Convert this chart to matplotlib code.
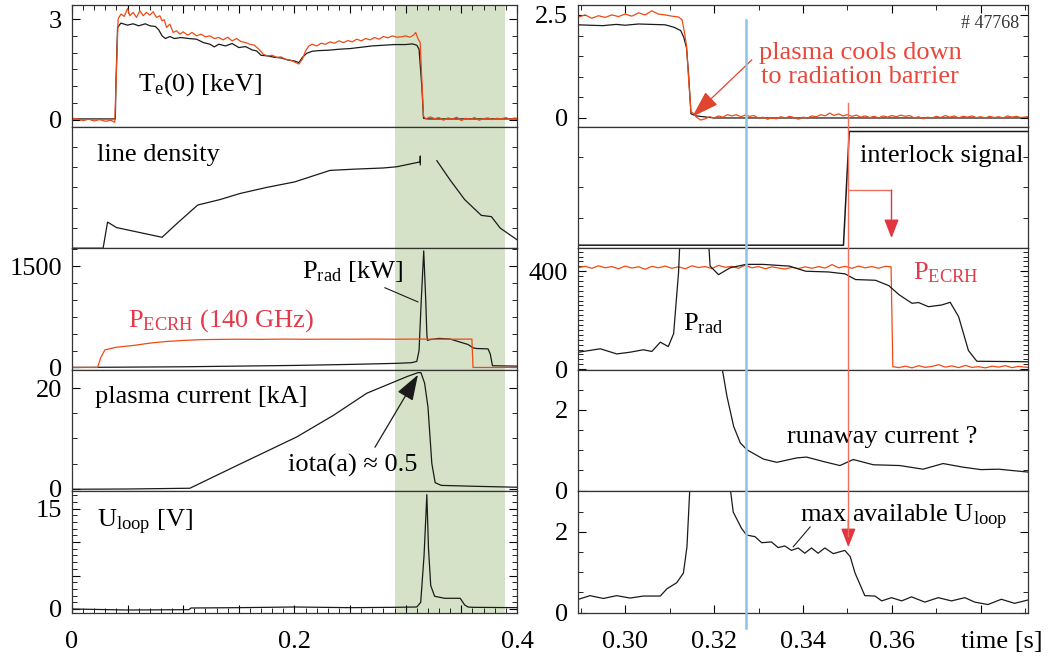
import numpy as np
import matplotlib
matplotlib.use("Agg")
import matplotlib.pyplot as plt
from matplotlib.ticker import MultipleLocator
from matplotlib.transforms import blended_transform_factory

plt.rcParams['font.family'] = ['Liberation Serif', 'DejaVu Serif']
plt.rcParams['mathtext.fontset'] = 'custom'
plt.rcParams['mathtext.rm'] = 'Liberation Serif'
plt.rcParams['mathtext.it'] = 'Liberation Serif:italic'

# ---------------- overview (left column), time in s ----------------
te_red_t = [0, 0.005, 0.01, 0.015, 0.02, 0.025, 0.03, 0.035, 0.0385, 0.040, 0.0415, 0.044, 0.047,
            0.050, 0.052, 0.055, 0.058, 0.061, 0.064, 0.067, 0.070, 0.073, 0.076, 0.079, 0.081,
            0.083, 0.085, 0.088, 0.091, 0.094, 0.097, 0.100, 0.104, 0.108, 0.112, 0.116, 0.120,
            0.124, 0.128, 0.132, 0.136, 0.140, 0.144, 0.148, 0.152, 0.156, 0.160, 0.164, 0.168,
            0.172, 0.176, 0.180, 0.184, 0.188, 0.192, 0.196, 0.200, 0.204, 0.207, 0.210, 0.213,
            0.216, 0.220, 0.224, 0.228, 0.232, 0.236, 0.240, 0.244, 0.248, 0.252, 0.256, 0.260,
            0.264, 0.268, 0.272, 0.276, 0.280, 0.284, 0.288, 0.292, 0.296, 0.300, 0.304, 0.307,
            0.309, 0.311, 0.313, 0.3145, 0.316, 0.318, 0.322, 0.326, 0.330, 0.334, 0.338, 0.342,
            0.346, 0.350, 0.354, 0.358, 0.362, 0.366, 0.370, 0.374, 0.378, 0.382, 0.386, 0.390,
            0.394, 0.398, 0.400]
te_red = [0.04, 0.02, -0.03, 0.01, -0.04, 0.0, -0.05, -0.02, -0.08, 1.5, 3.0, 3.15, 3.08,
          3.32, 3.1, 3.2, 3.05, 3.25, 3.1, 3.2, 3.12, 3.22, 3.05, 3.1, 2.95,
          2.98, 2.75, 2.85, 2.6, 2.65, 2.55, 2.62, 2.52, 2.6, 2.5, 2.55, 2.47,
          2.5, 2.42, 2.45, 2.38, 2.46, 2.35, 2.42, 2.33, 2.3, 2.25, 2.22, 2.1,
          1.95, 1.9, 1.92, 1.86, 1.87, 1.8, 1.78, 1.72, 1.66, 1.8, 2.05, 2.2,
          2.25, 2.2, 2.28, 2.25, 2.32, 2.28, 2.35, 2.3, 2.36, 2.32, 2.4, 2.35,
          2.42, 2.38, 2.45, 2.4, 2.48, 2.44, 2.5, 2.46, 2.47, 2.5, 2.46, 2.52,
          2.6, 2.42, 2.3, 1.2, 0.1, 0.02, 0.08, 0.03, 0.06, -0.02, 0.05, 0.02,
          0.07, -0.03, 0.04, 0.01, 0.06, -0.02, 0.03, 0.05, 0.0, 0.04, 0.02, 0.06,
          0.01, 0.05, 0.03]

te_blk_t = [0, 0.039, 0.0395, 0.041, 0.044, 0.050, 0.055, 0.060, 0.066, 0.070, 0.075, 0.078,
            0.081, 0.084, 0.088, 0.092, 0.098, 0.105, 0.112, 0.118, 0.124, 0.128, 0.132, 0.138,
            0.144, 0.150, 0.156, 0.162, 0.166, 0.170, 0.176, 0.182, 0.188, 0.194, 0.200, 0.204,
            0.207, 0.211, 0.216, 0.222, 0.230, 0.240, 0.250, 0.260, 0.270, 0.280, 0.290, 0.300,
            0.306, 0.310, 0.312, 0.3145, 0.316, 0.320, 0.400]
te_blk = [0.02, 0.02, 1.0, 2.75, 2.88, 2.82, 2.86, 2.8, 2.86, 2.8, 2.78, 2.68,
          2.5, 2.42, 2.48, 2.42, 2.45, 2.42, 2.4, 2.3, 2.25, 2.17, 2.25, 2.2,
          2.27, 2.15, 2.18, 2.08, 2.05, 1.92, 1.9, 1.86, 1.84, 1.78, 1.75, 1.7,
          1.85, 1.98, 2.04, 2.06, 2.07, 2.1, 2.12, 2.16, 2.2, 2.22, 2.24, 2.24,
          2.26, 2.22, 2.1, 1.0, 0.04, 0.02, 0.02]

dens_t = [0, 0.028, 0.032, 0.040, 0.081, 0.094, 0.113, 0.133, 0.151, 0.175, 0.200, 0.232,
          0.253, 0.280, 0.292, 0.313, 0.3131, 0.3131, 0.3132, 0.328, 0.340, 0.353, 0.368,
          0.377, 0.385, 0.400]
dens = [0, 0, 1.29, 1.02, 0.54, 1.2, 2.13, 2.4, 2.7, 3.0, 3.27, 3.84,
        3.9, 3.96, 4.02, 4.26, 4.55, 4.12, np.nan, 4.32, 3.36, 2.4, 1.62,
        1.56, 0.99, 0.42]

ecrh_t = [0, 0.023, 0.026, 0.0297, 0.040, 0.055, 0.070, 0.085, 0.100, 0.115, 0.130, 0.150,
          0.170, 0.190, 0.210, 0.230, 0.250, 0.270, 0.290, 0.310, 0.330, 0.350, 0.3595,
          0.3605, 0.400]
ecrh = [0, 0, 150, 261, 300, 325, 360, 385, 400, 411, 415, 418,
        416, 420, 417, 419, 418, 420, 418, 420, 418, 419, 420,
        0, 0]

prad_t = [0, 0.05, 0.10, 0.15, 0.20, 0.25, 0.29, 0.305, 0.310, 0.312, 0.314, 0.3162, 0.318,
          0.319, 0.3195, 0.321, 0.330, 0.340, 0.349, 0.356, 0.3607, 0.364, 0.374, 0.376,
          0.378, 0.400]
prad = [0, 5, 10, 20, 30, 45, 60, 70, 90, 250, 1000, 1725, 1000,
        500, 400, 410, 430, 420, 375, 340, 290, 280, 275, 200,
        25, 20]

ip_t = [0, 0.05, 0.106, 0.15, 0.202, 0.235, 0.265, 0.301, 0.311, 0.3137, 0.317, 0.320,
        0.3235, 0.3265, 0.332, 0.360, 0.400]
ip = [-0.1, -0.05, 0.1, 4.8, 10.3, 14.6, 19.0, 22.3, 23.1, 23.1, 21.0, 16.3,
      5.0, 1.2, 0.67, 0.5, 0.3]

uloop_t = [0, 0.05, 0.105, 0.107, 0.15, 0.20, 0.25, 0.29, 0.31, 0.3135, 0.3165, 0.319,
           0.3205, 0.3225, 0.326, 0.335, 0.349, 0.353, 0.356, 0.360, 0.400]
uloop = [0.0, -0.15, -0.1, 0.15, 0.2, 0.3, 0.2, 0.25, 0.3, 1.0, 8.0, 17.1,
         9.0, 3.5, 1.9, 1.6, 1.6, 0.6, 0.3, 0.25, 0.2]

# ---------------- zoom (right column) ----------------
zte_red_t = [0.2895, 0.291, 0.2925, 0.294, 0.2955, 0.297, 0.2985, 0.300, 0.3015, 0.303, 0.3045,
             0.306, 0.3075, 0.309, 0.3105, 0.312, 0.3128, 0.3133, 0.3138, 0.3143, 0.3148, 0.3155,
             0.316, 0.317, 0.318, 0.319, 0.320, 0.321, 0.322, 0.323, 0.324, 0.325, 0.326, 0.327,
             0.328, 0.329, 0.330, 0.331, 0.332, 0.333, 0.334, 0.335, 0.336, 0.337, 0.338, 0.339,
             0.340, 0.341, 0.342, 0.343, 0.344, 0.345, 0.346, 0.347, 0.348, 0.349, 0.350, 0.351,
             0.352, 0.353, 0.354, 0.355, 0.356, 0.357, 0.358, 0.359, 0.360, 0.361, 0.362, 0.363,
             0.364, 0.365, 0.366, 0.367, 0.368, 0.369, 0.370, 0.371, 0.372, 0.373, 0.374, 0.375,
             0.376, 0.377, 0.378, 0.379, 0.380, 0.381, 0.382, 0.383, 0.384, 0.385, 0.386, 0.387,
             0.388, 0.389, 0.3905]
zte_red = [2.45, 2.5, 2.42, 2.48, 2.44, 2.5, 2.46, 2.52, 2.47, 2.55, 2.5,
           2.6, 2.52, 2.5, 2.47, 2.45, 2.38, 2.1, 1.75, 0.9, 0.15, 0.1,
           0.02, -0.05, -0.02, 0.03, 0.0, 0.05, 0.02, 0.08, 0.05, 0.08, 0.03, 0.07,
           0.04, 0.06, -0.01, 0.02, -0.03, 0.0, -0.02, 0.03, 0.0, 0.04, 0.01, -0.03,
           0.02, 0.0, 0.05, 0.03, 0.08, 0.05, 0.12, 0.06, 0.1, 0.05, 0.08, 0.04,
           0.07, 0.02, 0.05, 0.01, 0.04, 0.0, 0.05, 0.02, 0.06, 0.03, 0.07, 0.04,
           0.06, 0.0, 0.03, -0.02, 0.02, 0.0, 0.04, 0.01, 0.06, 0.02, 0.05, 0.0,
           0.04, 0.02, 0.05, 0.01, 0.03, 0.0, 0.04, 0.01, 0.03, 0.0, 0.05, 0.02,
           0.04, 0.01, 0.03]

zte_blk_t = [0.2895, 0.292, 0.295, 0.298, 0.300, 0.303, 0.306, 0.309, 0.311, 0.3125, 0.3132,
             0.3138, 0.3143, 0.3148, 0.316, 0.320, 0.3905]
zte_blk = [2.26, 2.25, 2.24, 2.27, 2.25, 2.28, 2.27, 2.26, 2.2, 2.12, 1.95,
           1.7, 1.0, 0.1, 0.05, 0.0, 0.0]

ilock_t = [0.2895, 0.3491, 0.3504, 0.3905]
ilock = [0.15, 0.15, 5.76, 5.76]

zecrh_t = [0.2895, 0.291, 0.2925, 0.294, 0.2955, 0.297, 0.2985, 0.300, 0.3015, 0.303, 0.3045,
           0.306, 0.3075, 0.309, 0.3105, 0.312, 0.3135, 0.315, 0.3165, 0.318, 0.3195, 0.321,
           0.3225, 0.324, 0.3255, 0.327, 0.3285, 0.330, 0.3315, 0.333, 0.3345, 0.336, 0.3375,
           0.339, 0.3405, 0.342, 0.3435, 0.345, 0.3465, 0.348, 0.3495, 0.351, 0.3525, 0.354,
           0.3555, 0.357, 0.3585, 0.3598, 0.3602, 0.3615, 0.363, 0.3645, 0.366, 0.3675, 0.369,
           0.3705, 0.372, 0.3735, 0.375, 0.3765, 0.378, 0.3795, 0.381, 0.3825, 0.384, 0.3855,
           0.387, 0.3885, 0.3905]
zecrh = [415, 420, 412, 422, 414, 419, 410, 421, 413, 418, 408,
         420, 414, 421, 412, 418, 410, 422, 415, 419, 411, 424,
         416, 420, 412, 425, 414, 419, 410, 418, 413, 409, 416,
         411, 418, 412, 419, 413, 427, 414, 420, 412, 421, 414,
         419, 412, 420, 418, 10, 6, 12, 5, 14, 7, 11,
         18, 8, 13, 6, 15, 7, 10, 5, 12, 8, 14,
         6, 11, 7]

zprad_t = [0.2895, 0.2944, 0.2981, 0.3011, 0.3041, 0.3060, 0.3079, 0.3097, 0.3109, 0.3120,
           0.3125, 0.3185, 0.3191, 0.3210, 0.3236, 0.3272, 0.3309, 0.3369, 0.3406, 0.3457,
           0.3495, 0.3518, 0.3563, 0.3593, 0.3616, 0.3645, 0.3660, 0.3682, 0.3712, 0.3731,
           0.3750, 0.3772, 0.3791, 0.3905]
zprad = [69, 83, 62, 69, 79, 72, 110, 92, 145, 393,
         600, 600, 421, 386, 414, 428, 428, 421, 400, 397,
         389, 366, 363, 341, 304, 269, 272, 255, 262, 273,
         214, 76, 32, 30]

runaway_t = [0.3217, 0.3229, 0.3244, 0.3259, 0.3274, 0.3311, 0.3341, 0.3386, 0.3408, 0.3446,
             0.3483, 0.3513, 0.3558, 0.3618, 0.3670, 0.3715, 0.3760, 0.3800, 0.3840, 0.3905]
runaway = [3.1, 2.33, 1.59, 1.18, 1.01, 0.78, 0.70, 0.81, 0.83, 0.72,
           0.62, 0.77, 0.64, 0.62, 0.53, 0.67, 0.58, 0.52, 0.53, 0.46]

zuloop_t = [0.2895, 0.2921, 0.2951, 0.2981, 0.3011, 0.3041, 0.3079, 0.3094, 0.3116, 0.3131,
            0.3139, 0.3145, 0.3150, np.nan, 0.3235, 0.3243, 0.3262, 0.3273, 0.3292, 0.3307,
            0.3329, 0.3344, 0.3359, 0.3374, 0.3389, 0.3404, 0.3419, 0.3434, 0.3449, 0.3468,
            0.3494, 0.3506, 0.3517, 0.3539, 0.3562, 0.3577, 0.3599, 0.3622, 0.3644, 0.3674,
            0.3704, 0.3734, 0.3764, 0.3786, 0.3816, 0.3846, 0.3876, 0.3905]
zuloop = [0.33, 0.42, 0.35, 0.42, 0.36, 0.41, 0.41, 0.59, 0.74, 0.98,
          1.63, 2.98, 3.2, np.nan, 3.2, 2.49, 2.08, 1.92, 1.88, 1.73,
          1.75, 1.61, 1.65, 1.54, 1.6, 1.47, 1.6, 1.47, 1.6, 1.46,
          1.54, 1.39, 0.98, 0.42, 0.41, 0.29, 0.37, 0.29, 0.39, 0.26,
          0.37, 0.29, 0.37, 0.26, 0.2, 0.33, 0.23, 0.31]

RED = '#f04a14'
TXTRED = '#e8483a'
ARRRED = '#e23540'
BLK = '#1a1a1a'
FS = 19

fig = plt.figure(figsize=(10.55, 6.62), dpi=100)
gl = fig.add_gridspec(5, 1, left=0.0682, right=0.490, top=0.9924, bottom=0.074, hspace=0)
gr = fig.add_gridspec(5, 1, left=0.5479, right=0.9744, top=0.9924, bottom=0.074, hspace=0)
axl = [fig.add_subplot(gl[i]) for i in range(5)]
axr = [fig.add_subplot(gr[i]) for i in range(5)]


def style(ax, ylim, labelled, minor, xlim, top=False, bottom=False):
    ax.set_xlim(*xlim)
    ax.set_ylim(*ylim)
    ax.set_yticks(labelled)
    ax.set_yticklabels([('%g' % v) for v in labelled])
    ax.yaxis.set_minor_locator(MultipleLocator(minor))
    ax.tick_params(which='both', direction='in', left=True, right=True,
                   top=top, bottom=bottom, labelbottom=bottom, labelsize=FS, pad=7)
    ax.tick_params(axis='x', pad=13)
    ax.tick_params(which='major', length=6, width=0.8)
    ax.tick_params(which='minor', length=3.5, width=0.6)
    for s in ax.spines.values():
        s.set_linewidth(0.9)
        s.set_color('#333333')


LX = (0, 0.4)
RX = (0.2894, 0.3906)
style(axl[0], (-0.21, 3.42), [0, 3], 0.5, LX, top=True)
style(axl[1], (0, 6), [], 1, LX)
style(axl[2], (-35, 1765), [0, 1500], 250, LX)
style(axl[3], (-0.53, 23.66), [0, 20], 5, LX)
style(axl[4], (-0.6, 17.58), [0, 15], 1, LX, bottom=True)
style(axr[0], (-0.21, 2.74), [0, 2.5], 0.5, RX, top=True)
style(axr[1], (0, 6), [], 1.5, RX)
style(axr[2], (-3, 494), [0, 400], 100, RX)
style(axr[3], (-0.02, 2.99), [0, 2], 0.5, RX)
style(axr[4], (-0.01, 3.0), [0, 2], 0.5, RX, bottom=True)

axr[2].yaxis.set_minor_locator(MultipleLocator(20))
axl[4].set_yticks([0, 5, 10, 15])
axl[4].set_yticklabels(['0', '', '', '15'])

for ax in (axl[0], axl[4]):
    ax.xaxis.set_major_locator(MultipleLocator(0.05))
    ax.xaxis.set_minor_locator(MultipleLocator(0.01))
axl[4].set_xticklabels(['0' if abs(v) < 1e-9 else ('%.1f' % v if abs(v * 5 - round(v * 5)) < 1e-6 else '')
                        for v in axl[4].get_xticks()])
axl[4].set_xlim(*LX)
for ax in (axr[0], axr[4]):
    ax.set_xticks([0.30, 0.32, 0.34, 0.36, 0.38])
    ax.xaxis.set_minor_locator(MultipleLocator(0.01))
    ax.set_xlim(*RX)
axr[4].set_xticklabels(['0.30', '0.32', '0.34', '0.36', ''])
axr[0].tick_params(labeltop=False)
axl[0].tick_params(labeltop=False)

# green window on overview
for ax in axl:
    ax.axvspan(0.2904, 0.389, color='#d5e2c8', lw=0, zorder=0)

# ---- left curves ----
axl[0].plot(te_blk_t, te_blk, color=BLK, lw=0.9)
axl[0].plot(te_red_t, te_red, color=RED, lw=0.9)
axl[1].plot(dens_t, dens, color=BLK, lw=0.9)
axl[2].plot(prad_t, prad, color=BLK, lw=0.9)
axl[2].plot(ecrh_t, ecrh, color=RED, lw=0.9)
axl[3].plot(ip_t, ip, color=BLK, lw=0.9)
axl[4].plot(uloop_t, uloop, color=BLK, lw=0.9)

# ---- right curves ----
axr[0].plot(zte_blk_t, zte_blk, color=BLK, lw=0.9)
axr[0].plot(zte_red_t, zte_red, color=RED, lw=0.9)
axr[1].plot(ilock_t, ilock, color=BLK, lw=1.1)
axr[2].plot(zecrh_t, zecrh, color=RED, lw=0.9)
axr[2].plot(zprad_t, zprad, color=BLK, lw=0.9)
axr[3].plot(runaway_t, runaway, color=BLK, lw=0.9)
axr[4].plot(zuloop_t, zuloop, color=BLK, lw=0.9)

# ---- left labels ----
axl[0].text(0.0595, 1.05, r'T$_{\mathrm{e}}$(0) [keV]', fontsize=FS, va='center')
axl[1].text(0.0225, 4.6, 'line density', fontsize=FS, va='center')
axl[2].text(0.2067, 1420, r'P$_{\mathrm{rad}}$ [kW]', fontsize=FS, va='center')
axl[2].plot([0.2813, 0.311], [1180, 970], color=BLK, lw=0.8)
axl[2].text(0.0505, 700, r'P$_{\mathrm{ECRH}}$ (140 GHz)', fontsize=FS, va='center', color='#e23a4a')
axl[3].text(0.0205, 18.2, 'plasma current [kA]', fontsize=FS, va='center')
axl[3].text(0.194, 4.6, 'iota(a) \u2248 0.5', fontsize=FS, va='center')
axl[3].annotate('', xy=(0.311, 22.66), xytext=(0.2724, 8.26),
                arrowprops=dict(arrowstyle='-|>,head_length=1.6,head_width=0.55',
                                color=BLK, lw=0.9, shrinkA=0, shrinkB=0))
axl[4].text(0.0225, 12.9, r'U$_{\mathrm{loop}}$ [V]', fontsize=FS, va='center')

# ---- right labels ----
axr[0].text(0.3885, 2.3, '# 47768', fontsize=13, ha='right', va='center', color='#333333')
axr[0].text(0.3528, 1.29, 'plasma cools down\nto radiation barrier', fontsize=FS,
            ha='center', va='center', color=TXTRED, linespacing=1.1)
axr[0].annotate('', xy=(0.3151, 0.03), xytext=(0.3285, 1.41),
                arrowprops=dict(arrowstyle='-|>,head_length=1.7,head_width=0.55',
                                color='#e04530', lw=0.9, shrinkA=0, shrinkB=0))
axr[1].text(0.3895, 4.55, 'interlock signal', fontsize=FS, ha='right', va='center')
axr[2].text(0.3647, 395, r'P$_{\mathrm{ECRH}}$', fontsize=FS, va='center', color='#e23a4a')
axr[2].text(0.3130, 185, r'P$_{\mathrm{rad}}$', fontsize=FS, va='center')
axr[3].text(0.3578, 1.32, 'runaway current ?', fontsize=FS, ha='center', va='center')
axr[4].text(0.3627, 2.35, r'max available U$_{\mathrm{loop}}$', fontsize=FS, ha='center', va='center')
axr[4].plot([0.3416, 0.3378], [2.12, 1.63], color=BLK, lw=0.8)
fig.text(1001.5 / 1055, 1 - 642 / 662, 'time [s]', fontsize=FS, ha='center', va='center')

# markers spanning the zoom column: blue time cursor and red interlock arrow
tr = blended_transform_factory(axr[0].transData, fig.transFigure)
fig.add_artist(plt.Line2D([0.3272, 0.3272], [0.970, 0.0514], transform=tr,
                          color='#8cc4e6', lw=1.8, zorder=5))
fig.add_artist(plt.Line2D([0.3502, 0.3502], [0.8444, 0.19], transform=tr,
                          color='#f07060', lw=1.0, zorder=5))
axr[4].annotate('', xy=(0.3502, 1.62), xytext=(0.3502, 2.3),
                arrowprops=dict(arrowstyle='-|>,head_length=1.15,head_width=0.45',
                                color=ARRRED, lw=1.0, shrinkA=0, shrinkB=0))
axr[1].plot([0.3502, 0.3599], [2.87, 2.87], color='#f07060', lw=1.0)
axr[1].annotate('', xy=(0.3599, 0.5), xytext=(0.3599, 2.87),
                arrowprops=dict(arrowstyle='-|>,head_length=1.15,head_width=0.45',
                                color=ARRRED, lw=1.0, shrinkA=0, shrinkB=0))

fig.savefig('out.png', dpi=100)
